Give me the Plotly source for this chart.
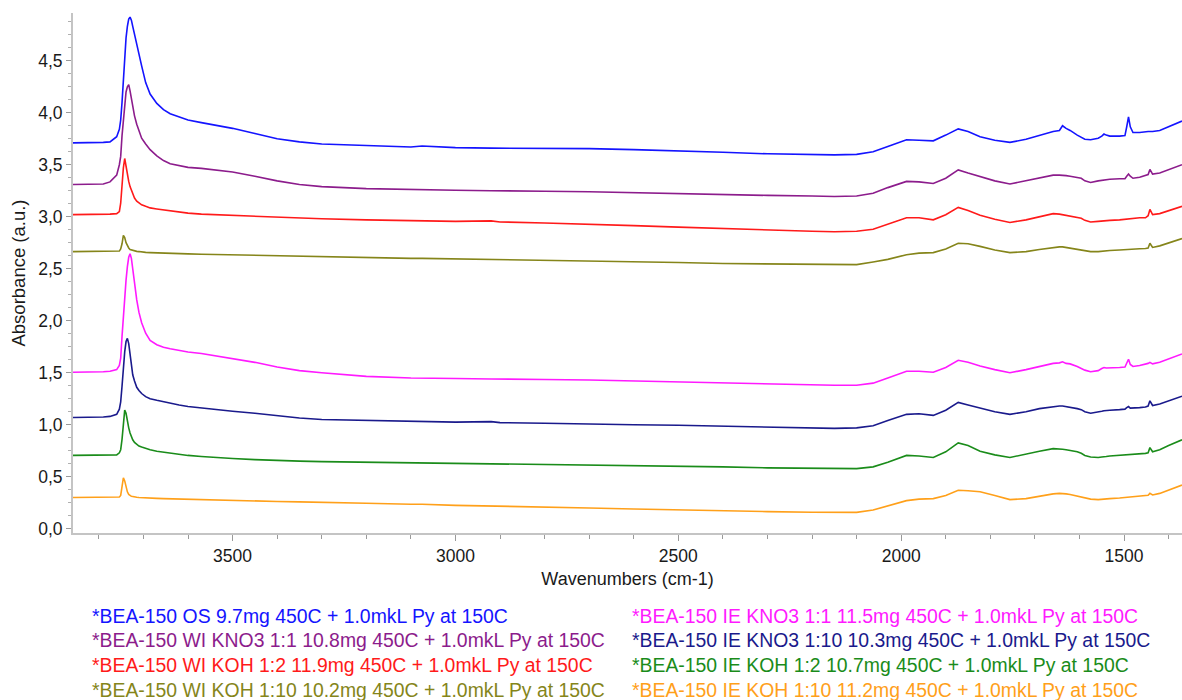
import plotly.graph_objects as go

# Wavenumber grid shared by all spectra (cm-1), descending
wavenumbers = [
    3858, 3820, 3790, 3775, 3760, 3754, 3751, 3748, 3745, 3742,
    3739, 3736, 3733, 3730, 3727, 3724, 3720, 3715, 3710, 3704,
    3695, 3685, 3670, 3655, 3640, 3620, 3600, 3570, 3540, 3500,
    3450, 3400, 3350, 3300, 3200, 3100, 3075, 3000, 2920, 2900,
    2800, 2700, 2600, 2500, 2400, 2300, 2200, 2150, 2100, 2063,
    2030, 1988, 1960, 1928, 1900, 1872, 1850, 1823, 1790, 1756,
    1720, 1690, 1659, 1645, 1638, 1630, 1621, 1605, 1596, 1588,
    1575, 1558, 1550, 1545, 1540, 1532, 1510, 1498, 1494, 1490,
    1486, 1480, 1465, 1452, 1446, 1442, 1436, 1420, 1400, 1370,
]

# Absorbance (a.u.), stacked spectra
os_9_7 = [
    3.71, 3.71, 3.715, 3.72, 3.77, 3.84, 3.93, 4.10, 4.33, 4.55,
    4.72, 4.83, 4.90, 4.92, 4.89, 4.83, 4.76, 4.67, 4.57, 4.45,
    4.29, 4.18, 4.09, 4.03, 3.99, 3.96, 3.93, 3.905, 3.88, 3.85,
    3.80, 3.75, 3.72, 3.70, 3.685, 3.67, 3.68, 3.665, 3.66, 3.66,
    3.66, 3.655, 3.645, 3.635, 3.62, 3.605, 3.60, 3.595, 3.60, 3.625,
    3.675, 3.74, 3.735, 3.73, 3.785, 3.845, 3.82, 3.77, 3.735, 3.715,
    3.745, 3.785, 3.82, 3.83, 3.875, 3.85, 3.83, 3.785, 3.76, 3.745,
    3.74, 3.755, 3.775, 3.795, 3.785, 3.775, 3.775, 3.78, 3.865, 3.96,
    3.865, 3.81, 3.81, 3.82, 3.82, 3.82, 3.82, 3.83, 3.865, 3.92,
]
wi_kno3_1_1 = [
    3.31, 3.31, 3.315, 3.335, 3.40, 3.50, 3.58, 3.78, 3.95, 4.08,
    4.20, 4.25, 4.27, 4.21, 4.14, 4.05, 3.97, 3.89, 3.82, 3.755,
    3.70, 3.645, 3.585, 3.54, 3.51, 3.49, 3.475, 3.465, 3.45, 3.43,
    3.39, 3.345, 3.31, 3.29, 3.27, 3.26, 3.26, 3.255, 3.25, 3.25,
    3.245, 3.24, 3.23, 3.225, 3.215, 3.205, 3.20, 3.195, 3.20, 3.225,
    3.28, 3.34, 3.335, 3.32, 3.37, 3.45, 3.42, 3.385, 3.345, 3.315,
    3.345, 3.375, 3.40, 3.40, 3.40, 3.395, 3.39, 3.38, 3.37, 3.345,
    3.33, 3.345, 3.35, 3.355, 3.355, 3.36, 3.365, 3.365, 3.39, 3.41,
    3.39, 3.37, 3.38, 3.40, 3.405, 3.455, 3.41, 3.42, 3.45, 3.50,
]
wi_koh_1_2 = [
    3.02, 3.02, 3.02, 3.025, 3.03, 3.05, 3.13, 3.32, 3.47, 3.56,
    3.48, 3.40, 3.34, 3.29, 3.25, 3.21, 3.18, 3.15, 3.13, 3.115,
    3.10, 3.085, 3.075, 3.065, 3.055, 3.045, 3.035, 3.025, 3.02, 3.01,
    3.00, 2.99, 2.985, 2.98, 2.97, 2.965, 2.965, 2.955, 2.96, 2.95,
    2.94, 2.93, 2.915, 2.90, 2.885, 2.87, 2.86, 2.855, 2.86, 2.88,
    2.93, 2.99, 2.99, 2.97, 3.02, 3.09, 3.06, 3.015, 2.975, 2.945,
    2.97, 3.00, 3.03, 3.025, 3.02, 3.015, 3.005, 2.99, 2.985, 2.965,
    2.95, 2.955, 2.96, 2.96, 2.965, 2.965, 2.97, 2.975, 2.98, 2.98,
    2.98, 2.985, 2.99, 2.99, 3.01, 3.07, 3.02, 3.03, 3.06, 3.10,
]
wi_koh_1_10 = [
    2.665, 2.665, 2.665, 2.665, 2.665, 2.67, 2.69, 2.74, 2.82, 2.80,
    2.75, 2.72, 2.70, 2.685, 2.68, 2.675, 2.67, 2.667, 2.665, 2.66,
    2.657, 2.655, 2.652, 2.65, 2.648, 2.645, 2.643, 2.64, 2.637, 2.635,
    2.63, 2.625, 2.62, 2.615, 2.605, 2.60, 2.60, 2.595, 2.59, 2.59,
    2.585, 2.58, 2.57, 2.56, 2.55, 2.545, 2.54, 2.54, 2.54, 2.565,
    2.59, 2.635, 2.65, 2.655, 2.69, 2.745, 2.74, 2.715, 2.68, 2.655,
    2.665, 2.685, 2.705, 2.71, 2.71, 2.705, 2.70, 2.69, 2.68, 2.675,
    2.665, 2.665, 2.67, 2.67, 2.67, 2.675, 2.68, 2.685, 2.685, 2.687,
    2.688, 2.69, 2.692, 2.695, 2.70, 2.745, 2.705, 2.72, 2.75, 2.79,
]
ie_kno3_1_1 = [
    1.505, 1.505, 1.51, 1.515, 1.53, 1.57, 1.64, 1.85, 2.05, 2.22,
    2.39, 2.52, 2.61, 2.645, 2.60, 2.50, 2.36, 2.20, 2.08, 1.98,
    1.88, 1.81, 1.77, 1.745, 1.73, 1.715, 1.70, 1.685, 1.665, 1.64,
    1.60, 1.555, 1.52, 1.50, 1.465, 1.45, 1.45, 1.445, 1.44, 1.44,
    1.435, 1.43, 1.42, 1.41, 1.40, 1.39, 1.385, 1.38, 1.38, 1.40,
    1.45, 1.515, 1.515, 1.505, 1.55, 1.62, 1.60, 1.565, 1.53, 1.50,
    1.53, 1.56, 1.59, 1.595, 1.605, 1.59, 1.585, 1.56, 1.54, 1.525,
    1.51, 1.52, 1.54, 1.55, 1.545, 1.545, 1.55, 1.555, 1.60, 1.63,
    1.58, 1.56, 1.57, 1.58, 1.59, 1.60, 1.585, 1.60, 1.635, 1.68,
]
ie_kno3_1_10 = [
    1.07, 1.07, 1.075, 1.08, 1.10, 1.15, 1.22, 1.37, 1.55, 1.70,
    1.80, 1.83, 1.78, 1.66, 1.56, 1.48, 1.42, 1.36, 1.33, 1.30,
    1.27, 1.25, 1.235, 1.22, 1.21, 1.19, 1.175, 1.16, 1.145, 1.13,
    1.11, 1.085, 1.065, 1.05, 1.04, 1.03, 1.03, 1.025, 1.03, 1.02,
    1.015, 1.005, 1.00, 0.995, 0.985, 0.975, 0.97, 0.965, 0.97, 0.99,
    1.04, 1.10, 1.105, 1.09, 1.14, 1.215, 1.19, 1.16, 1.125, 1.10,
    1.125, 1.155, 1.175, 1.18, 1.18, 1.175, 1.17, 1.155, 1.145, 1.125,
    1.11, 1.12, 1.13, 1.135, 1.135, 1.14, 1.145, 1.15, 1.165, 1.175,
    1.16, 1.16, 1.165, 1.17, 1.18, 1.23, 1.185, 1.20, 1.23, 1.275,
]
ie_koh_1_2 = [
    0.705, 0.705, 0.705, 0.705, 0.71, 0.73, 0.76, 0.86, 1.02, 1.14,
    1.11, 1.03, 0.97, 0.92, 0.88, 0.855, 0.83, 0.81, 0.795, 0.785,
    0.77, 0.76, 0.745, 0.735, 0.725, 0.715, 0.705, 0.695, 0.685, 0.675,
    0.665, 0.655, 0.65, 0.645, 0.64, 0.635, 0.635, 0.63, 0.628, 0.627,
    0.62, 0.615, 0.61, 0.60, 0.595, 0.585, 0.58, 0.578, 0.578, 0.595,
    0.64, 0.705, 0.70, 0.685, 0.74, 0.825, 0.80, 0.745, 0.71, 0.685,
    0.72, 0.745, 0.77, 0.77, 0.765, 0.76, 0.755, 0.74, 0.725, 0.705,
    0.69, 0.685, 0.69, 0.69, 0.695, 0.70, 0.705, 0.71, 0.712, 0.715,
    0.716, 0.718, 0.72, 0.725, 0.73, 0.78, 0.74, 0.76, 0.80, 0.855,
]
ie_koh_1_10 = [
    0.30, 0.30, 0.30, 0.30, 0.30, 0.305, 0.32, 0.40, 0.49, 0.46,
    0.40, 0.355, 0.33, 0.32, 0.312, 0.31, 0.305, 0.303, 0.30, 0.298,
    0.296, 0.294, 0.292, 0.29, 0.288, 0.285, 0.282, 0.279, 0.276, 0.272,
    0.268, 0.262, 0.258, 0.255, 0.245, 0.235, 0.235, 0.225, 0.22, 0.218,
    0.21, 0.20, 0.19, 0.18, 0.17, 0.165, 0.158, 0.156, 0.157, 0.18,
    0.22, 0.27, 0.285, 0.29, 0.32, 0.37, 0.365, 0.355, 0.32, 0.28,
    0.29, 0.315, 0.335, 0.34, 0.34, 0.335, 0.33, 0.315, 0.305, 0.295,
    0.285, 0.28, 0.285, 0.285, 0.288, 0.29, 0.295, 0.30, 0.302, 0.303,
    0.304, 0.306, 0.31, 0.318, 0.322, 0.34, 0.325, 0.34, 0.37, 0.42,
]

sample_names = [
    "*BEA-150 OS 9.7mg 450C + 1.0mkL Py at 150C",
    "*BEA-150 WI KNO3 1:1 10.8mg 450C + 1.0mkL Py at 150C",
    "*BEA-150 WI KOH 1:2 11.9mg 450C + 1.0mkL Py at 150C",
    "*BEA-150 WI KOH 1:10 10.2mg 450C + 1.0mkL Py at 150C",
    "*BEA-150 IE KNO3 1:1 11.5mg 450C + 1.0mkL Py at 150C",
    "*BEA-150 IE KNO3 1:10 10.3mg 450C + 1.0mkL Py at 150C",
    "*BEA-150 IE KOH 1:2 10.7mg 450C + 1.0mkL Py at 150C",
    "*BEA-150 IE KOH 1:10 11.2mg 450C + 1.0mkL Py at 150C",
]
spectra = [os_9_7, wi_kno3_1_1, wi_koh_1_2, wi_koh_1_10,
           ie_kno3_1_1, ie_kno3_1_10, ie_koh_1_2, ie_koh_1_10]
colors = ["#1414ff", "#8c1c8c", "#ff1a1a", "#85851a",
          "#ff1aff", "#1a1a8c", "#1a8c1a", "#ffa01a"]

for s in spectra:
    if len(s) != len(wavenumbers):
        raise ValueError("spectrum length does not match wavenumber grid")

FONT = "Liberation Sans, Arial, sans-serif"

fig = go.Figure()
for name, ys, col in zip(sample_names, spectra, colors):
    fig.add_trace(go.Scatter(
        x=wavenumbers, y=ys, mode="lines", name=name,
        line=dict(color=col, width=1.6),
        showlegend=False,
    ))

# Colored sample labels below the axis, two columns of four
PLOT_LEFT, PLOT_W, PLOT_TOP, PLOT_H = 73, 1109, 13, 520
col_px = [90, 630]
row_px = [615.5, 640, 664.5, 689.5]
for i, (name, col) in enumerate(zip(sample_names, colors)):
    c, r = divmod(i, 4)
    fig.add_annotation(
        text=name, showarrow=False,
        xref="paper", yref="paper",
        x=(col_px[c] - PLOT_LEFT) / PLOT_W,
        y=1 - (row_px[r] - PLOT_TOP) / PLOT_H,
        xanchor="left", yanchor="middle",
        font=dict(family=FONT, size=19.4, color=col),
    )

fig.update_layout(
    width=1182, height=700,
    margin=dict(l=PLOT_LEFT, r=0, t=PLOT_TOP, b=167),
    paper_bgcolor="white", plot_bgcolor="white",
    separators=",.",
    font=dict(family=FONT, color="#1a1a1a"),
    xaxis=dict(
        range=[3858, 1370],
        tickmode="linear", tick0=0, dtick=500,
        ticks="outside", ticklen=6, tickcolor="#9a9a9a", tickwidth=1,
        showline=True, linecolor="#c4c4c4", linewidth=2,
        showgrid=False, zeroline=False,
        tickfont=dict(size=17.5, color="#1a1a1a"),
        minor=dict(dtick=100, tick0=0, ticks="outside", ticklen=4,
                   tickcolor="#9a9a9a", showgrid=False),
        title=dict(text="Wavenumbers (cm-1)", font=dict(size=18, color="#1a1a1a"),
                   standoff=7),
    ),
    yaxis=dict(
        range=[-0.041, 4.959],
        tickmode="linear", tick0=0, dtick=0.5, tickformat=".1f",
        ticks="outside", ticklen=5, tickcolor="#9a9a9a", tickwidth=1,
        showline=True, linecolor="#c4c4c4", linewidth=2,
        showgrid=False, zeroline=False,
        tickfont=dict(size=17.5, color="#1a1a1a"),
        minor=dict(dtick=0.125, tick0=0, ticks="outside", ticklen=3,
                   tickcolor="#b0b0b0", showgrid=False),
        title=dict(text="Absorbance (a.u.)", font=dict(size=18.5, color="#1a1a1a"),
                   standoff=8),
    ),
)

fig.write_html("out.html")
